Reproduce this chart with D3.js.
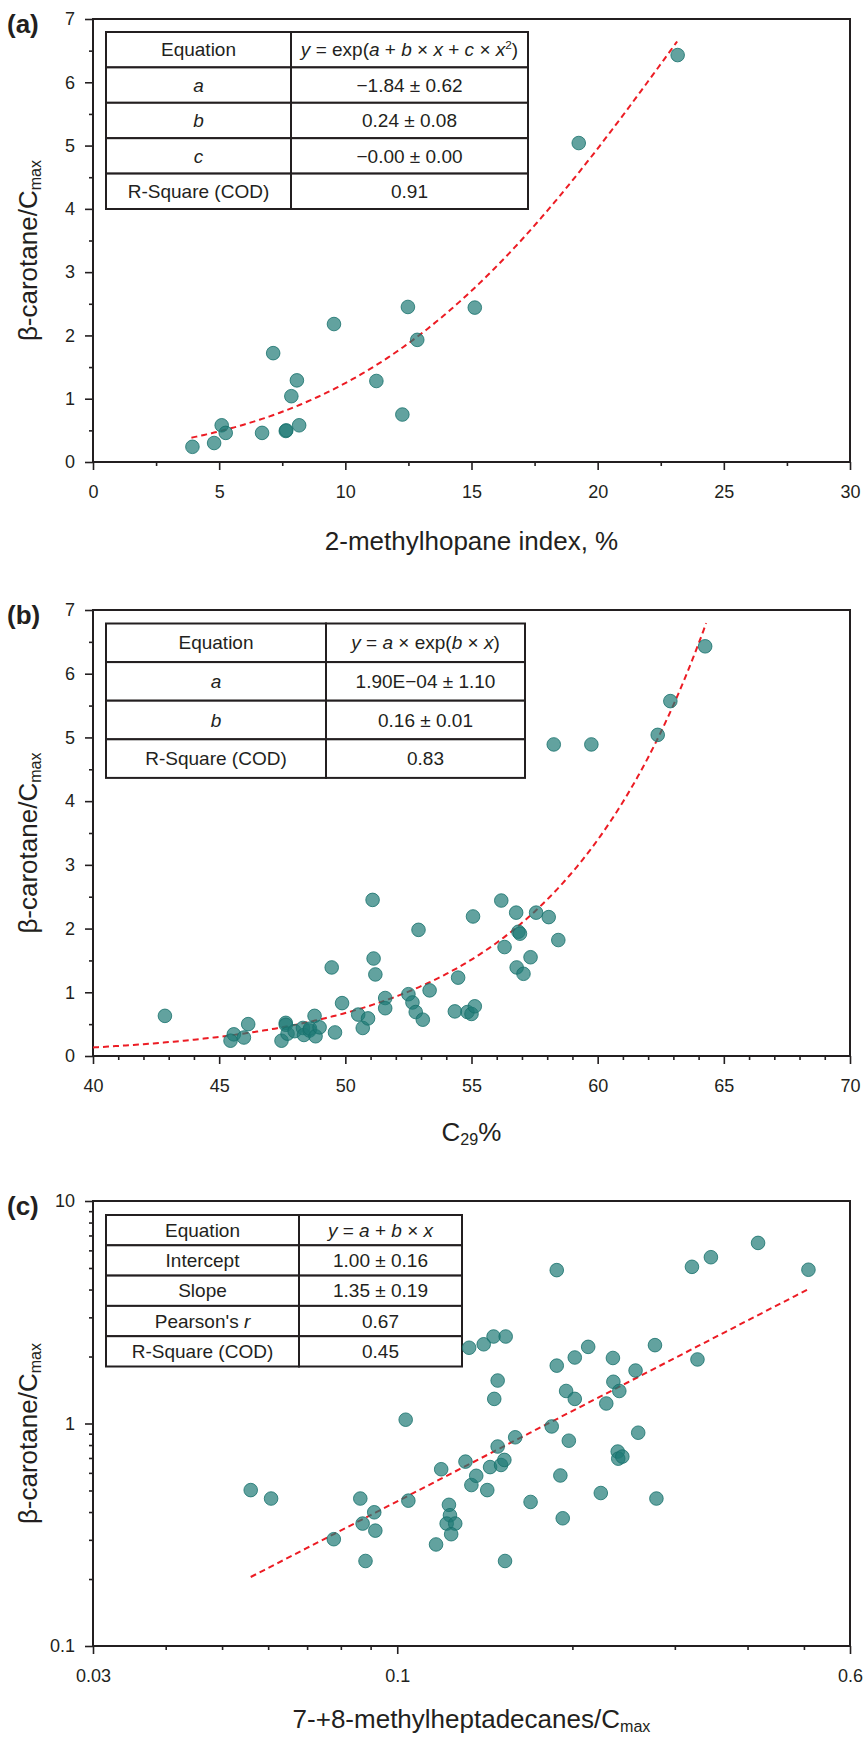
<!DOCTYPE html>
<html lang="en">
<head>
<meta charset="utf-8">
<script src="https://d3js.org/d3.v7.min.js"></script>
<style>
  body { margin: 0; background: #fff; }
  svg text { font-family: "Liberation Sans", Arial, sans-serif; fill: #231f20; }
</style>
</head>
<body>
<script>

// ---- panel (a): 2-methylhopane index vs beta-carotane
var aX = [3.94, 4.80, 5.10, 5.26, 6.70, 7.64, 7.66, 7.14, 7.86, 8.08, 8.17, 9.55, 11.23, 12.26, 12.48, 12.85, 15.13, 19.25, 23.17];
var aY = [0.24, 0.30, 0.58, 0.46, 0.46, 0.49, 0.50, 1.72, 1.04, 1.29, 0.58, 2.18, 1.28, 0.75, 2.45, 1.93, 2.44, 5.04, 6.43];
var aFit = {a: -1.84, b: 0.24, c: -0.0034, from: 3.9, to: 23.15};
var aTicksX = [0, 5, 10, 15, 20, 25, 30];
var aTicksY = [0, 1, 2, 3, 4, 5, 6, 7];
var aTable = [
  [[["Equation", ""]], [["y", "i"], [" = exp(", ""], ["a", "i"], [" + ", ""], ["b", "i"], [" \u00d7 ", ""], ["x", "i"], [" + ", ""], ["c", "i"], [" \u00d7 ", ""], ["x", "i"], ["2", "sup"], [")", ""]]],
  [[["a", "i"]], [["\u22121.84 \u00b1 0.62", ""]]],
  [[["b", "i"]], [["0.24 \u00b1 0.08", ""]]],
  [[["c", "i"]], [["\u22120.00 \u00b1 0.00", ""]]],
  [[["R-Square (COD)", ""]], [["0.91", ""]]]
];

// ---- panel (b): C29% vs beta-carotane
var bX = [42.85, 45.58, 45.45, 45.98, 46.15, 47.47, 47.64, 47.64, 47.71, 47.99, 48.32, 48.36, 48.58, 48.60, 48.78, 48.82, 48.98, 49.46, 49.59, 49.87,
          50.51, 50.69, 50.90, 51.08, 51.12, 51.19, 51.58, 51.58, 52.50, 52.66, 52.79, 52.90, 53.07, 53.34, 54.34, 54.47, 54.84, 55.00, 55.06, 55.13,
          56.18, 56.31, 56.77, 56.79, 56.86, 56.92, 57.06, 57.34, 57.56, 58.06, 58.26, 58.44, 59.75, 62.38, 62.88, 64.26];
var bY = [0.63, 0.34, 0.24, 0.29, 0.50, 0.24, 0.52, 0.49, 0.35, 0.39, 0.44, 0.33, 0.40, 0.43, 0.63, 0.31, 0.45, 1.39, 0.37, 0.83,
          0.65, 0.44, 0.59, 2.45, 1.53, 1.28, 0.91, 0.75, 0.97, 0.84, 0.69, 1.98, 0.57, 1.03, 0.70, 1.23, 0.69, 0.66, 2.19, 0.78,
          2.44, 1.71, 2.25, 1.39, 1.95, 1.92, 1.29, 1.55, 2.25, 2.18, 4.89, 1.82, 4.89, 5.04, 5.57, 6.43];
var bFit = {a: 2.1e-4, b: 0.1615, from: 40, to: 64.3};
var bTicksX = [40, 45, 50, 55, 60, 65, 70];
var bTicksY = [0, 1, 2, 3, 4, 5, 6, 7];
var bTable = [
  [[["Equation", ""]], [["y", "i"], [" = ", ""], ["a", "i"], [" \u00d7 exp(", ""], ["b", "i"], [" \u00d7 ", ""], ["x", "i"], [")", ""]]],
  [[["a", "i"]], [["1.90E\u221204 \u00b1 1.10", ""]]],
  [[["b", "i"]], [["0.16 \u00b1 0.01", ""]]],
  [[["R-Square (COD)", ""]], [["0.83", ""]]]
];

// ---- panel (c): 7-+8-methylheptadecanes vs beta-carotane (log-log)
var cX = [0.0560, 0.0607, 0.0778, 0.0864, 0.0872, 0.0882, 0.0913, 0.0917, 0.1034, 0.1045, 0.1166, 0.1190, 0.1227, 0.1232, 0.1216, 0.1258,
          0.1238, 0.1310, 0.1329, 0.1341, 0.1367, 0.1408, 0.1428, 0.1444, 0.1464, 0.1468, 0.1488, 0.1488, 0.1508, 0.1528, 0.1536, 0.1532,
          0.1595, 0.1695, 0.1843, 0.1880, 0.1880, 0.1907, 0.1925, 0.1951, 0.1972, 0.2019, 0.2019, 0.2129, 0.2238, 0.2287, 0.2348, 0.2352,
          0.2393, 0.2408, 0.2398, 0.2437, 0.2568, 0.2595, 0.2773, 0.2789, 0.3210, 0.3281, 0.3460, 0.4170, 0.5090];
var cY = [0.502, 0.460, 0.302, 0.460, 0.355, 0.241, 0.399, 0.330, 1.04, 0.450, 0.286, 0.623, 0.431, 0.387, 0.355, 0.355,
          0.318, 0.674, 2.19, 0.529, 0.582, 2.27, 0.502, 0.637, 2.46, 1.29, 1.56, 0.788, 0.651, 0.686, 2.46, 0.241,
          0.867, 0.444, 0.970, 4.89, 1.82, 0.584, 0.375, 1.40, 0.837, 1.98, 1.29, 2.21, 0.487, 1.23, 1.97, 1.54,
          0.748, 1.40, 0.695, 0.710, 1.73, 0.909, 2.25, 0.460, 5.06, 1.94, 5.59, 6.48, 4.91];
var cFit = {intercept: 1.00, slope: 1.35, from: 0.056, to: 0.51};
var cTicksX = [0.03, 0.1, 0.6];
var cMinorX = [0.04, 0.05, 0.06, 0.07, 0.08, 0.09, 0.2, 0.3, 0.4, 0.5];
var cTicksY = [0.1, 1, 10];
var cMinorY = [0.2, 0.3, 0.4, 0.5, 0.6, 0.7, 0.8, 0.9, 2, 3, 4, 5, 6, 7, 8, 9];
var cTable = [
  [[["Equation", ""]], [["y", "i"], [" = ", ""], ["a", "i"], [" + ", ""], ["b", "i"], [" \u00d7 ", ""], ["x", "i"]]],
  [[["Intercept", ""]], [["1.00 \u00b1 0.16", ""]]],
  [[["Slope", ""]], [["1.35 \u00b1 0.19", ""]]],
  [[["Pearson's ", ""], ["r", "i"]], [["0.67", ""]]],
  [[["R-Square (COD)", ""]], [["0.45", ""]]]
];

var yTitle = [["\u03b2-carotane/C", ""], ["max", "sub"]];

var ink = "#231f20";
var dotFill = "#1f7a76";
var dotStroke = "#17706b";
var fitColor = "#ec1c24";

var svg = d3.select("body").append("svg")
  .attr("width", 866)
  .attr("height", 1737);

svg.append("rect").attr("width", 866).attr("height", 1737).attr("fill", "#fff");

// write mixed italic / super / subscript parts into a text element
function rich(text, parts, size) {
  var shift = 0;
  parts.forEach(function(p) {
    var s = 0;
    var t = text.append("tspan").text(p[0]);
    if (p[1] == "i") t.style("font-style", "italic");
    if (p[1] == "sup") { s = -size * 0.38; t.attr("font-size", size * 0.62); }
    if (p[1] == "sub") { s = size * 0.16; t.attr("font-size", size * 0.62); }
    if (s != shift) t.attr("dy", s - shift);
    shift = s;
  });
}

function drawPanel(p) {
  var g = svg.append("g");
  var x = p.x, y = p.y;
  var x0 = x.range()[0], x1 = x.range()[1];
  var y0 = y.range()[0], y1 = y.range()[1];

  // minor ticks
  g.append("g").attr("transform", "translate(0," + y0 + ")")
    .call(d3.axisBottom(x).tickValues(p.minorX).tickSize(4).tickFormat(""));
  g.append("g").attr("transform", "translate(" + x0 + ",0)")
    .call(d3.axisLeft(y).tickValues(p.minorY).tickSize(4).tickFormat(""));

  // major ticks with labels
  g.append("g").attr("class", "tx").attr("transform", "translate(0," + y0 + ")")
    .call(d3.axisBottom(x).tickValues(p.ticksX).tickSize(8).tickPadding(15).tickFormat(p.fmt));
  g.append("g").attr("class", "ty").attr("transform", "translate(" + x0 + ",0)")
    .call(d3.axisLeft(y).tickValues(p.ticksY).tickSize(8).tickPadding(10).tickFormat(p.fmt));

  g.selectAll(".domain").remove();
  g.selectAll(".tick line").attr("stroke", ink).attr("stroke-width", 1.6);
  g.selectAll(".tick text").attr("font-size", 18).attr("fill", ink)
    .style("font-family", "'Liberation Sans', Arial, sans-serif");

  // frame
  g.append("rect")
    .attr("x", x0).attr("y", y1)
    .attr("width", x1 - x0).attr("height", y0 - y1)
    .attr("fill", "none").attr("stroke", ink).attr("stroke-width", 2);

  // panel letter
  g.append("text").attr("x", 7).attr("y", y1 + 14)
    .attr("font-size", 26).attr("font-weight", "bold").text(p.letter);

  // axis titles
  var xt = g.append("text").attr("x", (x0 + x1) / 2).attr("y", p.xTitleY)
    .attr("text-anchor", "middle").attr("font-size", 26);
  rich(xt, p.xTitle, 26);

  var yt = g.append("text")
    .attr("transform", "translate(37," + ((y0 + y1) / 2 + 10) + ") rotate(-90)")
    .attr("text-anchor", "middle").attr("font-size", 26);
  rich(yt, yTitle, 26);

  // table
  var tb = p.table;
  var tg = g.append("g");
  tb.rows.forEach(function(row, i) {
    var ty = tb.top + i * tb.rowH;
    [0, 1].forEach(function(c) {
      var cx = c == 0 ? tb.left : tb.mid;
      var cw = c == 0 ? tb.mid - tb.left : tb.right - tb.mid;
      tg.append("rect").attr("x", cx).attr("y", ty).attr("width", cw).attr("height", tb.rowH)
        .attr("fill", "#fff").attr("stroke", ink).attr("stroke-width", 2);
      var t = tg.append("text").attr("x", cx + cw / 2).attr("y", ty + tb.rowH / 2 + 6.6)
        .attr("text-anchor", "middle").attr("font-size", 19);
      rich(t, row[c], 19);
    });
  });

  // fitted curve
  var line = d3.line().x(function(d) { return x(d[0]); }).y(function(d) { return y(d[1]); });
  g.append("path").datum(p.fitPts)
    .attr("d", line)
    .attr("fill", "none")
    .attr("stroke", fitColor)
    .attr("stroke-width", 2)
    .attr("stroke-dasharray", "6,4");

  // samples
  g.selectAll("circle.pt").data(p.xs.map(function(v, i) { return [v, p.ys[i]]; }))
    .enter().append("circle")
    .attr("class", "pt")
    .attr("cx", function(d) { return x(d[0]); })
    .attr("cy", function(d) { return y(d[1]); })
    .attr("r", 6.8)
    .attr("fill", dotFill)
    .attr("fill-opacity", 0.7)
    .attr("stroke", dotStroke)
    .attr("stroke-opacity", 0.8)
    .attr("stroke-width", 1);
}

function halfSteps(lo, hi, step) {
  var out = [];
  for (var v = lo; v <= hi + 1e-9; v += step) out.push(+v.toFixed(4));
  return out;
}

// (a)
var xa = d3.scaleLinear().domain([0, 30]).range([93, 850]);
var ya = d3.scaleLinear().domain([0, 7]).range([462, 19]);
var aCurve = d3.range(aFit.from, aFit.to, 0.1).concat([aFit.to]).map(function(v) {
  return [v, Math.exp(aFit.a + aFit.b * v + aFit.c * v * v)];
});
drawPanel({
  letter: "(a)", x: xa, y: ya, xs: aX, ys: aY,
  ticksX: aTicksX, ticksY: aTicksY,
  minorX: halfSteps(2.5, 27.5, 5), minorY: halfSteps(0.5, 6.5, 1),
  fmt: d3.format("d"),
  xTitle: [["2-methylhopane index, %", ""]], xTitleY: 550,
  fitPts: aCurve,
  table: {left: 106, mid: 291, right: 528, top: 32, rowH: 35.4, rows: aTable}
});

// (b)
var xb = d3.scaleLinear().domain([40, 70]).range([93, 850]);
var yb = d3.scaleLinear().domain([0, 7]).range([1056, 610]);
var bCurve = d3.range(bFit.from, bFit.to, 0.1).concat([bFit.to]).map(function(v) {
  return [v, bFit.a * Math.exp(bFit.b * v)];
});
drawPanel({
  letter: "(b)", x: xb, y: yb, xs: bX, ys: bY,
  ticksX: bTicksX, ticksY: bTicksY,
  minorX: d3.range(41, 70).filter(function(v) { return v % 5 != 0; }),
  minorY: halfSteps(0.5, 6.5, 1),
  fmt: d3.format("d"),
  xTitle: [["C", ""], ["29", "sub"], ["%", ""]], xTitleY: 1141,
  fitPts: bCurve,
  table: {left: 106, mid: 326, right: 525, top: 623.5, rowH: 38.6, rows: bTable}
});

// (c)
var xc = d3.scaleLog().domain([0.03, 0.6]).range([93, 850]);
var yc = d3.scaleLog().domain([0.1, 10]).range([1646, 1201]);
var cCurve = d3.range(0, 41).map(function(i) {
  var v = cFit.from * Math.pow(cFit.to / cFit.from, i / 40);
  return [v, Math.pow(10, cFit.intercept + cFit.slope * Math.log10(v))];
});
drawPanel({
  letter: "(c)", x: xc, y: yc, xs: cX, ys: cY,
  ticksX: cTicksX, ticksY: cTicksY,
  minorX: cMinorX, minorY: cMinorY,
  fmt: function(d) { return String(d); },
  xTitle: [["7-+8-methylheptadecanes/C", ""], ["max", "sub"]], xTitleY: 1728,
  fitPts: cCurve,
  table: {left: 106, mid: 299, right: 462, top: 1215, rowH: 30.3, rows: cTable}
});

</script>
</body>
</html>
